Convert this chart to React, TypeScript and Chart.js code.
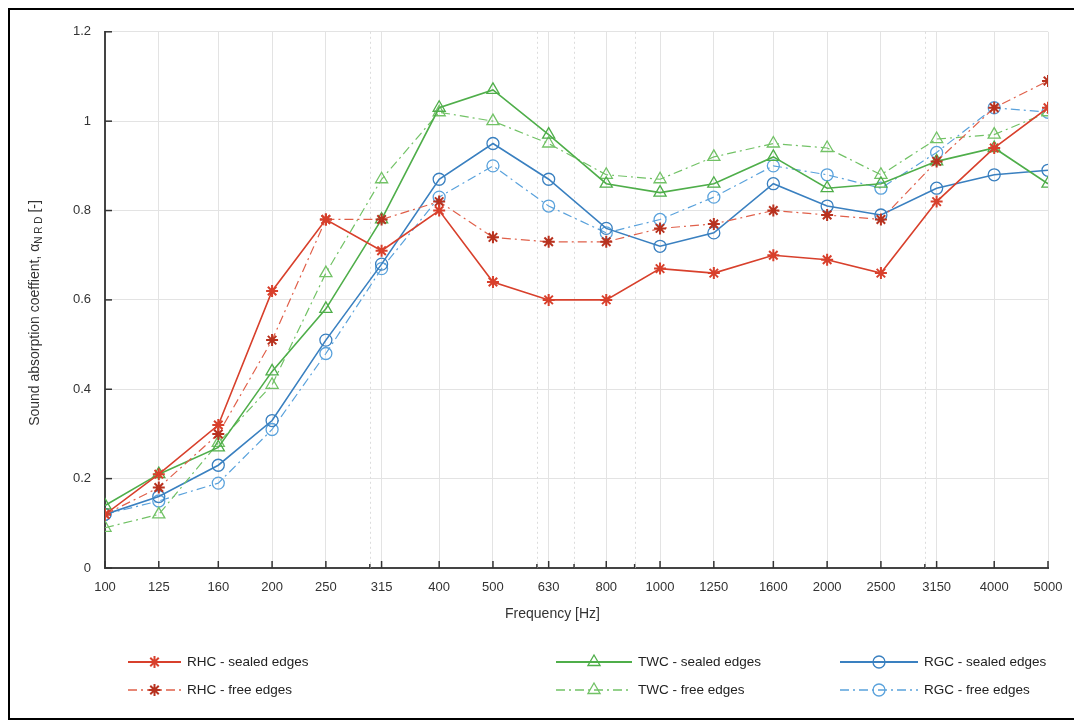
import React, { useEffect, useRef } from "react";
import { Chart, registerables } from "chart.js";

Chart.register(...registerables);

const frequencies = [100, 125, 160, 200, 250, 315, 400, 500, 630, 800, 1000, 1250, 1600, 2000, 2500, 3150, 4000, 5000];
const minorFrequencies = [300, 600, 700, 900, 3000];
const yTickValues = [0, 0.2, 0.4, 0.6, 0.8, 1, 1.2];

const rhcSealed = [0.12, 0.21, 0.32, 0.62, 0.78, 0.71, 0.80, 0.64, 0.60, 0.60, 0.67, 0.66, 0.70, 0.69, 0.66, 0.82, 0.94, 1.03];
const rhcFree = [0.12, 0.18, 0.30, 0.51, 0.78, 0.78, 0.82, 0.74, 0.73, 0.73, 0.76, 0.77, 0.80, 0.79, 0.78, 0.91, 1.03, 1.09];
const twcSealed = [0.14, 0.21, 0.27, 0.44, 0.58, 0.78, 1.03, 1.07, 0.97, 0.86, 0.84, 0.86, 0.92, 0.85, 0.86, 0.91, 0.94, 0.86];
const twcFree = [0.09, 0.12, 0.28, 0.41, 0.66, 0.87, 1.02, 1.00, 0.95, 0.88, 0.87, 0.92, 0.95, 0.94, 0.88, 0.96, 0.97, 1.02];
const rgcSealed = [0.12, 0.16, 0.23, 0.33, 0.51, 0.68, 0.87, 0.95, 0.87, 0.76, 0.72, 0.75, 0.86, 0.81, 0.79, 0.85, 0.88, 0.89];
const rgcFree = [0.12, 0.15, 0.19, 0.31, 0.48, 0.67, 0.83, 0.90, 0.81, 0.75, 0.78, 0.83, 0.90, 0.88, 0.85, 0.93, 1.03, 1.02];

const seriesLabels = [
  "RHC - sealed edges",
  "RHC - free edges",
  "TWC - sealed edges",
  "TWC - free edges",
  "RGC - sealed edges",
  "RGC - free edges",
];

const FONT = '"Liberation Sans", Arial, Helvetica, sans-serif';
const TEXT = "#333333";
const RED = "#d8402c";
const RED_F = "#e0604a";
const GREEN = "#4fae4a";
const GREEN_F = "#72c266";
const BLUE = "#3a80c0";
const BLUE_F = "#5aa2dc";
const DASHDOT = [9, 4, 2, 4];

type Style = { color: string; dash: number[]; marker: string; markerFill: string; width: number };
const styles: Style[] = [
  { color: RED, dash: [], marker: "star", markerFill: RED, width: 1.6 },
  { color: RED_F, dash: DASHDOT, marker: "star", markerFill: "#b8321f", width: 1.2 },
  { color: GREEN, dash: [], marker: "triangle", markerFill: "transparent", width: 1.6 },
  { color: GREEN_F, dash: DASHDOT, marker: "triangle", markerFill: "transparent", width: 1.2 },
  { color: BLUE, dash: [], marker: "circle", markerFill: "transparent", width: 1.6 },
  { color: BLUE_F, dash: DASHDOT, marker: "circle", markerFill: "transparent", width: 1.2 },
];
const seriesValues = [rhcSealed, rhcFree, twcSealed, twcFree, rgcSealed, rgcFree];

function drawMarker(ctx: CanvasRenderingContext2D, kind: string, x: number, y: number, color: string) {
  ctx.save();
  ctx.setLineDash([]);
  ctx.strokeStyle = color;
  ctx.beginPath();
  if (kind === "star") {
    ctx.lineWidth = 2;
    const r = 6;
    const d = r * 0.7071;
    ctx.moveTo(x - r, y); ctx.lineTo(x + r, y);
    ctx.moveTo(x, y - r); ctx.lineTo(x, y + r);
    ctx.moveTo(x - d, y - d); ctx.lineTo(x + d, y + d);
    ctx.moveTo(x - d, y + d); ctx.lineTo(x + d, y - d);
    ctx.stroke();
  } else if (kind === "triangle") {
    ctx.lineWidth = 1.3;
    const r = 7;
    ctx.moveTo(x, y - r);
    ctx.lineTo(x + r * 0.866, y + r * 0.5);
    ctx.lineTo(x - r * 0.866, y + r * 0.5);
    ctx.closePath();
    ctx.stroke();
  } else {
    ctx.lineWidth = 1.3;
    ctx.arc(x, y, 6, 0, Math.PI * 2);
    ctx.stroke();
  }
  ctx.restore();
}

const decorPlugin = {
  id: "decor",
  beforeDatasetsDraw(chart: any) {
    const { ctx, chartArea } = chart;
    const xs = chart.scales.x;
    ctx.save();
    ctx.strokeStyle = "#dcdcdc";
    ctx.lineWidth = 1;
    ctx.setLineDash([2, 3]);
    minorFrequencies.forEach((f) => {
      const px = Math.round(xs.getPixelForValue(f)) + 0.5;
      ctx.beginPath();
      ctx.moveTo(px, chartArea.top);
      ctx.lineTo(px, chartArea.bottom);
      ctx.stroke();
    });
    ctx.restore();
  },
  afterDraw(chart: any) {
    const { ctx, chartArea } = chart;
    const xs = chart.scales.x;
    const ys = chart.scales.y;
    ctx.save();
    // inward ticks
    ctx.strokeStyle = "#333";
    ctx.lineWidth = 1.5;
    ctx.setLineDash([]);
    frequencies.forEach((f) => {
      const px = xs.getPixelForValue(f);
      ctx.beginPath();
      ctx.moveTo(px, chartArea.bottom);
      ctx.lineTo(px, chartArea.bottom - 7);
      ctx.stroke();
    });
    minorFrequencies.forEach((f) => {
      const px = xs.getPixelForValue(f);
      ctx.beginPath();
      ctx.moveTo(px, chartArea.bottom);
      ctx.lineTo(px, chartArea.bottom - 4);
      ctx.stroke();
    });
    yTickValues.forEach((v) => {
      const py = ys.getPixelForValue(v);
      ctx.beginPath();
      ctx.moveTo(chartArea.left, py);
      ctx.lineTo(chartArea.left + 7, py);
      ctx.stroke();
    });

    // x title
    ctx.fillStyle = TEXT;
    ctx.font = `14px ${FONT}`;
    ctx.textAlign = "center";
    ctx.textBaseline = "middle";
    ctx.fillText("Frequency [Hz]", (chartArea.left + chartArea.right) / 2 - 24, chartArea.bottom + 46);

    // y title with subscript
    const main = "Sound absorption coeffient, α";
    const sub = "N R D";
    const tail = " [-]";
    ctx.font = `14px ${FONT}`;
    const wMain = ctx.measureText(main).width;
    const wTail = ctx.measureText(tail).width;
    ctx.font = `10px ${FONT}`;
    const wSub = ctx.measureText(sub).width;
    const total = wMain + wSub + wTail;
    ctx.translate(25, 303);
    ctx.rotate(-Math.PI / 2);
    ctx.textAlign = "left";
    ctx.textBaseline = "middle";
    let cx = -total / 2;
    ctx.font = `14px ${FONT}`;
    ctx.fillText(main, cx, 0);
    cx += wMain;
    ctx.font = `10px ${FONT}`;
    ctx.fillText(sub, cx, 4);
    cx += wSub;
    ctx.font = `14px ${FONT}`;
    ctx.fillText(tail, cx, 0);
    ctx.restore();

    // legend
    ctx.save();
    const colStart = [118, 546, 830];
    const lineLens = [53, 76, 78];
    const textGap = 6;
    const rowY = [652, 680];
    ctx.font = `13.5px ${FONT}`;
    ctx.textAlign = "left";
    ctx.textBaseline = "middle";
    for (let i = 0; i < 6; i++) {
      const col = Math.floor(i / 2);
      const row = i % 2;
      const st = styles[i];
      const x0 = colStart[col];
      const len = lineLens[col];
      const y0 = rowY[row];
      ctx.strokeStyle = st.color;
      ctx.lineWidth = st.width + 0.4;
      ctx.setLineDash(st.dash);
      ctx.beginPath();
      ctx.moveTo(x0, y0);
      ctx.lineTo(x0 + len, y0);
      ctx.stroke();
      ctx.setLineDash([]);
      drawMarker(ctx, st.marker, x0 + len / 2, y0, st.marker === "star" ? st.markerFill : st.color);
      ctx.fillStyle = "#222";
      ctx.fillText(seriesLabels[i], x0 + len + textGap, y0);
    }
    ctx.restore();
  },
};

export default function App() {
  const canvasRef = useRef<HTMLCanvasElement | null>(null);

  useEffect(() => {
    if (!canvasRef.current) return;
    const datasets = seriesValues.map((vals, i) => {
      const st = styles[i];
      return {
        label: seriesLabels[i],
        data: frequencies.map((f, j) => ({ x: f, y: vals[j] })),
        borderColor: st.color,
        borderWidth: st.width,
        borderDash: st.dash,
        backgroundColor: "transparent",
        pointStyle: st.marker,
        pointRadius: st.marker === "circle" ? 6 : st.marker === "triangle" ? 7 : 6,
        pointBorderWidth: st.marker === "star" ? 2 : 1.3,
        pointBorderColor: st.marker === "star" ? st.markerFill : st.color,
        pointBackgroundColor: "transparent",
        fill: false,
        tension: 0,
      };
    });

    const chart = new Chart(canvasRef.current, {
      type: "line",
      data: { datasets },
      plugins: [decorPlugin],
      options: {
        animation: false,
        responsive: false,
        maintainAspectRatio: false,
        devicePixelRatio: 1,
        layout: { padding: { top: 21, right: 28, left: 0, bottom: 0 } },
        plugins: {
          legend: { display: false },
          tooltip: { enabled: false },
          title: { display: false },
        },
        scales: {
          x: {
            type: "logarithmic",
            min: 100,
            max: 5000,
            afterBuildTicks: (scale: any) => {
              scale.ticks = frequencies.map((v) => ({ value: v }));
            },
            afterFit: (scale: any) => {
              scale.height = 150;
            },
            ticks: {
              autoSkip: false,
              maxRotation: 0,
              minRotation: 0,
              padding: 12,
              color: TEXT,
              font: { family: FONT, size: 13 },
              callback: (v: any) => String(v),
            },
            grid: { color: "#e3e3e3", lineWidth: 1, drawTicks: false },
            border: { display: true, color: "#444", width: 2 },
          },
          y: {
            type: "linear",
            min: 0,
            max: 1.2,
            afterBuildTicks: (scale: any) => {
              scale.ticks = yTickValues.map((v) => ({ value: v }));
            },
            afterFit: (scale: any) => {
              scale.width = 95;
            },
            ticks: {
              padding: 14,
              color: TEXT,
              font: { family: FONT, size: 13 },
              callback: (v: any) => String(Math.round(Number(v) * 10) / 10),
            },
            grid: { color: "#e3e3e3", lineWidth: 1, drawTicks: false },
            border: { display: true, color: "#444", width: 2 },
          },
        },
      } as any,
    });
    return () => chart.destroy();
  }, []);

  return (
    <div style={{ width: 1066, height: 708, border: "2px solid #000", background: "#fff" }}>
      <canvas ref={canvasRef} width={1066} height={708} style={{ display: "block", width: 1066, height: 708 }} />
    </div>
  );
}
